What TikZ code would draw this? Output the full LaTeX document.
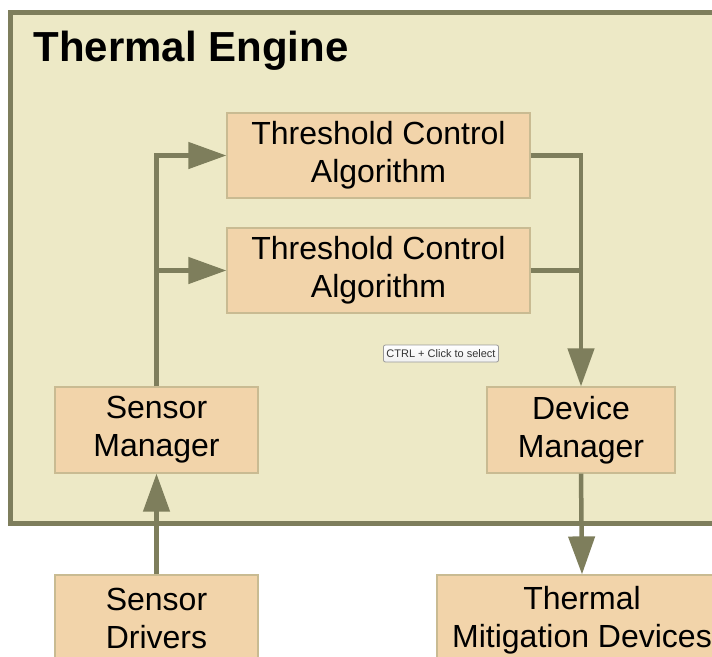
\documentclass[tikz,border=0pt]{standalone}
\usepackage{fontspec}
\setmainfont{Liberation Sans}
\usepackage{xcolor}
\usepackage{tikz}
\usetikzlibrary{arrows.meta, positioning}

\definecolor{engineFill}{HTML}{EDE9C6}
\definecolor{engineLine}{HTML}{7E7E5C}
\definecolor{boxFill}{HTML}{F2D4AA}
\definecolor{boxLine}{HTML}{C9BB92}
\definecolor{tipLine}{HTML}{9A9A9A}

\begin{document}
\begin{tikzpicture}[x=1pt, y=-1pt,
    block/.style={draw=boxLine, line width=1.2pt, fill=boxFill, align=center,
      inner sep=0pt, font=\fontsize{32}{38}\selectfont},
    flow/.style={draw=engineLine, line width=4.5pt, -{Triangle[length=38pt, width=26pt]}},
    link/.style={draw=engineLine, line width=4.5pt}]
    \clip (0,0) rectangle (712,656);

    % 1. Thermal Engine frame
    \draw[engineLine, line width=5pt, fill=engineFill] (10.5,12) rectangle (740,523);
    \node[anchor=base west, font=\fontsize{42}{48}\selectfont\bfseries] (title) at (30,61) {Thermal Engine};

    % 2. Boxes inside the engine
    \node[block, minimum width=303pt, minimum height=85pt] (tcaA) at (378.5,155.5) {Threshold Control\\Algorithm};
    \node[block, minimum width=303pt, minimum height=85pt] (tcaB) at (378.5,270.5) {Threshold Control\\Algorithm};
    \node[block, minimum width=203pt, minimum height=86pt] (sensorMgr) at (156.5,430) {Sensor\\Manager};
    \node[block, minimum width=188pt, minimum height=86pt] (deviceMgr) at (581,430) {Device\\Manager};

    % 3. Boxes outside the engine
    \node[block, minimum width=203pt, minimum height=86pt] (sensorDrv) at (156.5,618) {Sensor\\Drivers};
    \node[block, minimum width=290pt, minimum height=90pt] (mitigation) at (582,620) {Thermal\\Mitigation Devices};

    % 4. Connectors
    \draw[flow] (sensorDrv.north) -- (sensorMgr.south);
    \draw[flow] (sensorMgr.north) |- (tcaA.west);
    \draw[flow] (sensorMgr.north |- tcaB.west) -- (tcaB.west);
    \draw[flow] (tcaA.east) -| (deviceMgr.north);
    \draw[link] (tcaB.east) -- (tcaB.east -| deviceMgr.north);
    \draw[flow] (deviceMgr.south) -- (mitigation.north);

    % 5. Tooltip
    \node[draw=tipLine, line width=0.8pt, rounded corners=2pt, top color=white, bottom color=gray!12,
      text=black!80, font=\fontsize{11}{12}\selectfont, inner xsep=3pt, inner ysep=0pt,
      minimum height=17pt] (tooltip) at (441,353.5) {CTRL + Click to select};

\end{tikzpicture}
\end{document}
